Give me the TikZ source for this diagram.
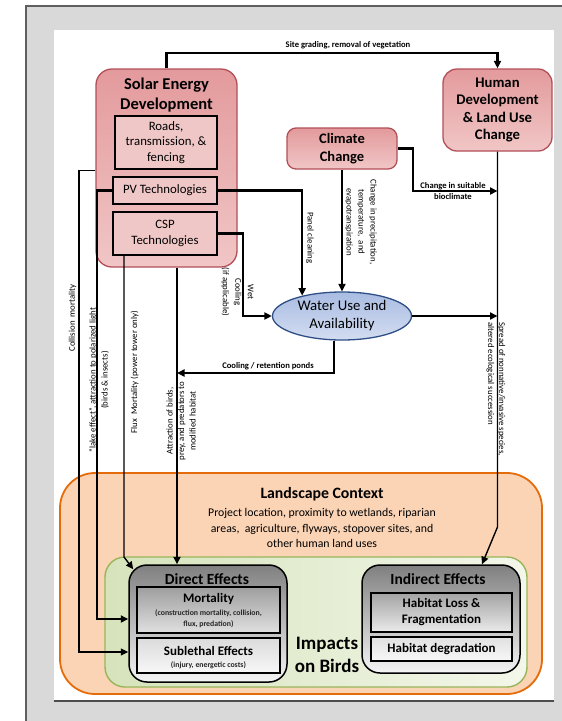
\documentclass[tikz,border=0pt]{standalone}
\usepackage{fontspec}
\setmainfont{Carlito}
\usetikzlibrary{arrows.meta,shapes.geometric,calc}
\definecolor{dkred}{HTML}{B24F58}
\definecolor{redtop}{HTML}{E39A9C}
\definecolor{redbot}{HTML}{F1C6C6}
\definecolor{pinkin}{HTML}{F0C7C7}
\definecolor{pagegray}{HTML}{D9D9D9}
\definecolor{framegray}{HTML}{5F5F5F}
\definecolor{shadowgray}{HTML}{4D4D4D}
\definecolor{wblue}{HTML}{2F4F86}
\definecolor{wtop}{HTML}{A9BCE2}
\definecolor{wbot}{HTML}{D3DDF1}
\definecolor{orfill}{HTML}{FBD4B6}
\definecolor{ordraw}{HTML}{E46C0A}
\definecolor{grfill}{HTML}{D6E3BB}
\definecolor{grfill2}{HTML}{F3F7EA}
\definecolor{grdraw}{HTML}{98B55A}
\begin{document}
\begin{tikzpicture}[x=1pt,y=-1pt,
  conn/.style={draw=black,line width=2.1pt},
  tconn/.style={draw=black,line width=1.4pt},
  arr/.style={-{Triangle[length=7.5pt,width=7pt]}},
  lab/.style={font=\fontsize{8.8}{11}\selectfont,inner sep=0pt,align=center},
  blab/.style={font=\bfseries\fontsize{8.6}{10.5}\selectfont,inner sep=0pt,align=center},
  redbox/.style={draw=dkred,line width=1.3pt,top color=redtop,bottom color=redbot,inner sep=0pt,align=center},
  inbox/.style={draw=black,line width=2.4pt,fill=pinkin,inner sep=0pt,align=center,font=\fontsize{12.8}{15.5}\selectfont},
  graybox/.style={draw=black,line width=1.5pt,rounded corners=18pt,top color=black!50,bottom color=black!4,inner sep=0pt},
  subbox/.style={draw=black,line width=2.6pt,inner sep=0pt,align=center},
  txt/.style={inner sep=0pt,align=center}
]
\useasboundingbox (0,0) rectangle (562,721);
% page frame
\fill[white] (0,0) rectangle (562,721);
\fill[pagegray] (26,6) rectangle (562,721);
\draw[framegray,line width=1.5pt] (26,721) -- (26,6) -- (562,6);
\fill[white] (54,30) rectangle (554,700);
\draw[shadowgray,line width=2pt] (54,701) -- (554,701);

% top nodes
\node[redbox,rounded corners=16pt,minimum width=141pt,minimum height=198pt] (solar) at (166.5,168) {};
\node[txt,font=\bfseries\fontsize{16.5}{20}\selectfont] (soltitle) at (166.5,95) {Solar Energy\\Development};
\node[inbox,minimum width=102pt,minimum height=53pt] (roads) at (166,142.5) {Roads,\\transmission, \&\\fencing};
\node[inbox,minimum width=104pt,minimum height=27pt] (pv) at (165,190.5) {PV Technologies};
\node[inbox,minimum width=104pt,minimum height=43pt] (csp) at (165,233.5) {CSP\\Technologies};

\node[redbox,rounded corners=9pt,minimum width=110pt,minimum height=41pt,font=\bfseries\fontsize{14.5}{18}\selectfont] (climate) at (342,148.5) {Climate\\Change};
\node[redbox,rounded corners=14pt,minimum width=109pt,minimum height=82pt,font=\bfseries\fontsize{14.7}{17.6}\selectfont] (human) at (497.5,110) {Human\\Development\\\& Land Use\\Change};

\node[ellipse,draw=wblue,line width=1.3pt,top color=wtop,bottom color=wbot,minimum width=139pt,minimum height=48pt,inner sep=0pt,align=center,font=\fontsize{14.8}{18}\selectfont] (water) at (342,316) {Water Use and\\Availability};

% bottom nodes
\node[draw=ordraw,line width=1.8pt,fill=orfill,rounded corners=35pt,minimum width=482pt,minimum height=221pt] (land) at (301,583.5) {};
\node[txt,font=\bfseries\fontsize{15.8}{19}\selectfont] (landtitle) at (322,494) {Landscape Context};
\node[txt,font=\fontsize{11.8}{15.5}\selectfont] (landtext) at (322,528) {Project location, proximity to wetlands, riparian\\areas,\ \ agriculture, flyways, stopover sites, and\\other human land uses};
\node[draw=grdraw,line width=1.4pt,left color=grfill,right color=grfill2,rounded corners=20pt,minimum width=422pt,minimum height=130pt] (green) at (316,622) {};
\node[txt,font=\bfseries\fontsize{19}{23}\selectfont] (impacts) at (327,654.5) {Impacts\\on Birds};

\node[graybox,minimum width=158pt,minimum height=117pt] (direct) at (208,623.5) {};
\node[txt,font=\bfseries\fontsize{15.5}{18}\selectfont] (directtitle) at (207,579) {Direct Effects};
\node[subbox,top color=black!38,bottom color=black!12,minimum width=143pt,minimum height=46pt] (mort) at (208.5,610) {};
\node[txt,font=\bfseries\fontsize{13}{15}\selectfont] (morttitle) at (208.5,599) {Mortality};
\node[txt,font=\bfseries\fontsize{7.8}{11}\selectfont,text=black!85] (morttext) at (208.5,618.5) {(construction mortality, collision,\\flux, predation)};
\node[subbox,top color=black!14,bottom color=black!3,minimum width=143pt,minimum height=35pt] (sublethal) at (208.5,655.5) {};
\node[txt,font=\bfseries\fontsize{13}{15}\selectfont] (subtitle) at (208.5,651) {Sublethal Effects};
\node[txt,font=\bfseries\fontsize{7.8}{10}\selectfont,text=black!85] (subtext) at (208.5,665) {(injury, energetic costs)};

\node[graybox,minimum width=158pt,minimum height=108pt] (indirect) at (441,619) {};
\node[txt,font=\bfseries\fontsize{15.5}{18}\selectfont] (indtitle) at (438,579) {Indirect Effects};
\node[subbox,top color=black!36,bottom color=black!8,minimum width=141pt,minimum height=39pt,font=\bfseries\fontsize{13}{16}\selectfont] (habloss) at (441.5,612.5) {Habitat Loss \&\\Fragmentation};
\node[subbox,top color=black!12,bottom color=black!3,minimum width=141pt,minimum height=24pt,font=\bfseries\fontsize{13}{16}\selectfont] (habdeg) at (441.5,649) {Habitat degradation};

% connectors
\draw[conn,arr] (solar.north) |- (human.north |- 0,53) -- (human.north);
\node[blab] (sglab) at (348,45) {Site grading, removal of vegetation};

\coordinate (bio) at (413,191);
\draw[conn,arr] (climate.east) -| (bio) -- (bio -| human.south);
\node[blab] (biolab) at (453,191) {Change in suitable\\bioclimate};

\draw[tconn,arr] (human.south) -- (human.south |- 0,527) -- (indirect.north -| 482,0);
\node[lab,rotate=-90,anchor=west,align=left] (spreadlab) at (496,322) {Spread of nonnative/invasive species,\\altered ecological succession};

\draw[conn,arr] (water.east) -- (water.east -| human.south);

\draw[tconn,arr] (climate.south) -- (water.north);
\node[lab,rotate=-90,font=\fontsize{8.8}{12}\selectfont] (preclab) at (361,222) {Change in precipitation,\\temperature,\ \ and\\evapotranspiration};

\draw[conn,arr] (pv.east) -| (water.153);
\node[lab,rotate=-90] (panellab) at (310,238) {Panel cleaning};

\coordinate (wc) at (243,316);
\draw[conn,arr] (csp.east) -| (wc) -- (water.west);
\node[lab,rotate=-90,font=\fontsize{8.8}{12.5}\selectfont] (wetlab) at (237.5,292) {Wet\\Cooling\\(if applicable)};

\coordinate (cr) at (334,373);
\coordinate (crend) at (177,373);
\draw[conn,arr] (water.south -| cr) -- (cr) -- (crend);
\node[blab] (crlab) at (268,366.5) {Cooling / retention ponds};

\draw[conn,arr] (solar.south -| crend) -- (direct.north -| crend);
\node[lab,rotate=90,font=\fontsize{8.8}{11.5}\selectfont] (attlab) at (181,421) {Attraction of birds,\\prey, and predators to\\modified habitat};

\coordinate (fx) at (124,557);
\draw[tconn,arr] (csp.south -| fx) -- (fx) -- ([shift={(5,5)}]direct.north west);
\node[lab,rotate=90] (fluxlab) at (134.5,372) {Flux\ \ Mortality (power tower only)};

\coordinate (lk) at (97,619);
\draw[conn,arr] (pv.west) -| (lk) -- (lk -| direct.west);
\node[lab,rotate=90,font=\fontsize{8.8}{12}\selectfont] (lakelab) at (99,380) {``lake effect'', attraction to polarized light\\(birds \& insects)};

\coordinate (cl) at (79,652);
\draw[tconn,arr] (solar.west |- roads.south) -| (cl) -- (cl -| direct.west);
\node[lab,rotate=90] (collab) at (72.5,318) {Collision\ \ mortality};
\end{tikzpicture}
\end{document}
